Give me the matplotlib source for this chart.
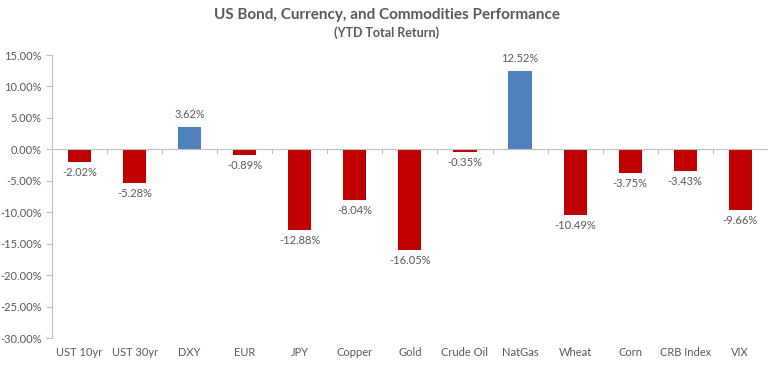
import matplotlib
matplotlib.use("Agg")
import matplotlib.pyplot as plt
import numpy as np
from matplotlib.ticker import FuncFormatter

plt.rcParams['font.family'] = ['Lato', 'DejaVu Sans']

categories = ["UST 10yr", "UST 30yr", "DXY", "EUR", "JPY", "Copper", "Gold",
              "Crude Oil", "NatGas", "Wheat", "Corn", "CRB Index", "VIX"]
returns = [-2.02, -5.28, 3.62, -0.89, -12.88, -8.04, -16.05,
           -0.35, 12.52, -10.49, -3.75, -3.43, -9.66]

red = "#C00000"
blue = "#4F81BD"
grey = "#595959"

fig = plt.figure(figsize=(7.73, 3.67), dpi=100)
ax = fig.add_axes([0.0673, 0.079, 0.926, 0.771])

x = np.arange(len(categories))
colors = [blue if v > 0 else red for v in returns]
ax.bar(x, returns, width=0.42, color=colors, zorder=2)

# value labels: above positive bars, below negative ones
for xi, v in zip(x, returns):
    if v >= 0:
        ax.text(xi, v + 1.1, "%.2f%%" % v, ha="center", va="bottom", fontsize=8, color=grey)
    else:
        ax.text(xi, v - 0.8, "%.2f%%" % v, ha="center", va="top", fontsize=8, color=grey)

ax.set_ylim(-30, 15)
ax.set_xlim(-0.5, len(categories) - 0.5)
ax.set_yticks(np.arange(-30, 16, 5))
ax.yaxis.set_major_formatter(FuncFormatter(lambda v, p: "%.2f%%" % v))
ax.tick_params(axis="y", colors="#BFBFBF", labelcolor=grey, labelsize=8, length=4, width=0.8)

# x axis drawn at zero, tick marks between categories
ax.set_xticks([])
ax.axhline(0, color="#BFBFBF", lw=0.8, zorder=3)
for b in np.arange(0.5, len(categories), 1):
    ax.plot([b, b], [0, -0.6], color="#BFBFBF", lw=0.8, zorder=3)
for xi, c in zip(x, categories):
    ax.text(xi, -31.5, c, ha="center", va="top", fontsize=8, color=grey)

for s in ["top", "right", "bottom"]:
    ax.spines[s].set_visible(False)
ax.spines["left"].set_color("#BFBFBF")
ax.spines["left"].set_linewidth(0.8)

fig.text(0.5, 0.96, "US Bond, Currency, and Commodities Performance", ha="center",
         va="center", fontsize=11, fontweight="bold", color=grey)
fig.text(0.5, 0.912, "(YTD Total Return)", ha="center", va="center", fontsize=9,
         fontweight="bold", color=grey)

fig.savefig("out.png", dpi=100)
